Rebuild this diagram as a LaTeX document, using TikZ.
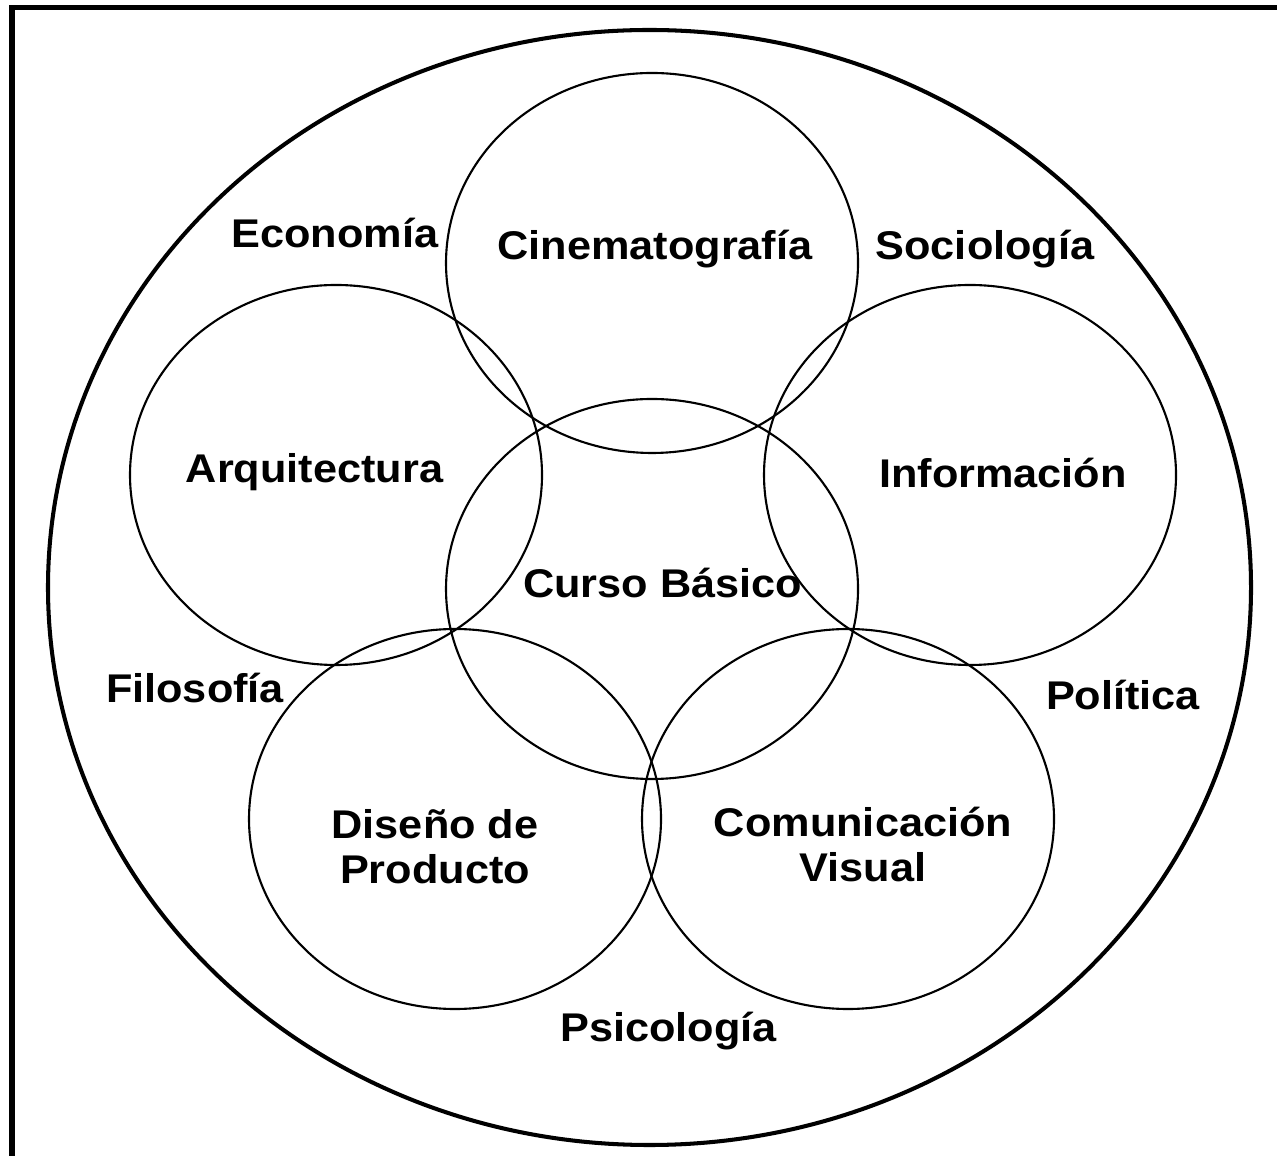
\documentclass[tikz,border=0pt]{standalone}
\usepackage{fontspec}
\setmainfont{Liberation Sans}[FakeStretch=1.08]
\usetikzlibrary{shapes.geometric}

\begin{document}
\begin{tikzpicture}[
        area/.style={draw, ellipse, inner sep=0pt, minimum width=4.12cm, minimum height=3.8cm, line width=0.6pt},
        field/.style={font=\fontsize{11.4}{12.8}\selectfont\bfseries, inner sep=0pt, text height=0.286cm, text depth=0pt},
        twoline/.style={font=\fontsize{11.4}{12.8}\selectfont\bfseries, inner sep=0pt, align=center, anchor=base}
    ]
        \useasboundingbox (0,0) rectangle (12.77,11.55);
        \clip (0,0) rectangle (12.77,11.55);

        % Frame
        \draw[line width=1.6pt] (0.12,-0.5) rectangle (13.5,11.475);

        % Outer field
        \node[draw, ellipse, inner sep=0pt, line width=1.15pt, minimum width=12.03cm, minimum height=11.15cm] (outer) at (6.495,5.675) {};

        % Disciplines
        \node[area] (cine) at (6.52,8.92) {};
        \node[area] (arq) at (3.36,6.80) {};
        \node[area] (info) at (9.70,6.80) {};
        \node[area] (curso) at (6.52,5.66) {};
        \node[area] (diseno) at (4.55,3.36) {};
        \node[area] (comun) at (8.48,3.36) {};

        % Labels inside
        \node[field] (cineText) at (6.55,9.095) {Cinematografía};
        \node[field] (arqText) at (3.145,6.87) {Arquitectura};
        \node[field] (infoText) at (10.03,6.82) {Información};
        \node[field] (cursoText) at (6.625,5.72) {Curso Básico};
        \node[twoline] (disenoText) at (4.35,2.712) {Diseño de\\Producto};
        \node[twoline] (comunText) at (8.63,2.737) {Comunicación\\Visual};

        % Labels outside
        \node[field] (eco) at (3.35,9.22) {Economía};
        \node[field] (soc) at (9.85,9.095) {Sociología};
        \node[field] (filo) at (1.95,4.665) {Filosofía};
        \node[field] (pol) at (11.23,4.60) {Política};
        \node[field] (psico) at (6.685,1.28) {Psicología};
    \end{tikzpicture}
\end{document}
